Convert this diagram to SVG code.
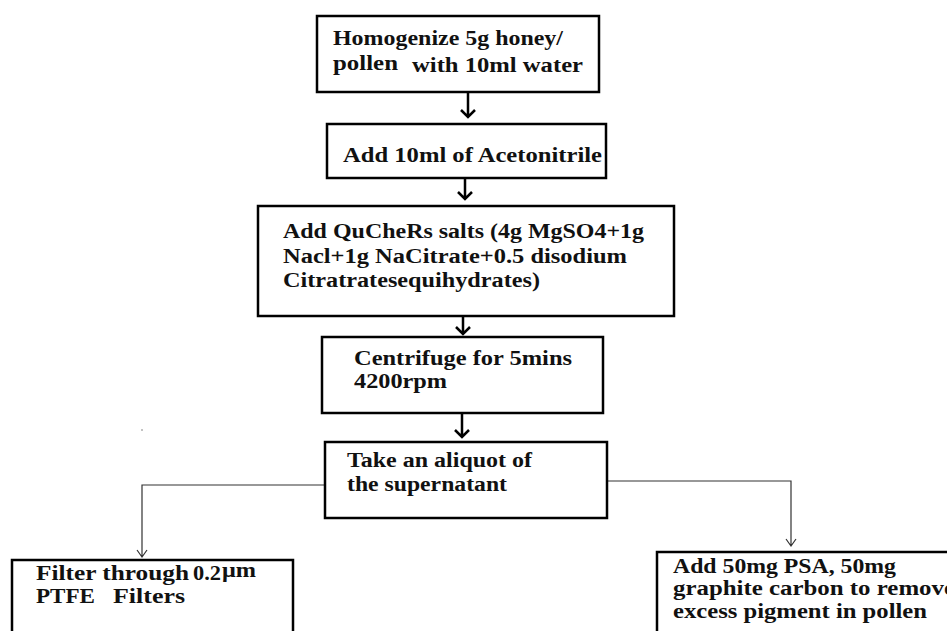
<svg xmlns="http://www.w3.org/2000/svg" width="947" height="631" viewBox="0 0 947 631">
<style>
.box{fill:#fff;stroke:#000;stroke-width:2.5}
.t{font-family:"Liberation Serif","Times New Roman",serif;font-weight:bold;font-size:20px;fill:#111}
.thick{stroke:#000;stroke-width:2.5;fill:none}
.thin{stroke:#333;stroke-width:1.2;fill:none}
</style>
<rect width="947" height="631" fill="#fff"/>
<g id="connectors">
<path class="thick" d="M468 92 V117 M461 110 L468 117 L475 110"/>
<path class="thick" d="M465 178 V199 M458 192 L465 199 L472 192"/>
<path class="thick" d="M463 316 V334 M456 327 L463 334 L470 327"/>
<path class="thick" d="M462 413 V437 M455 430 L462 437 L469 430"/>
<path class="thin" d="M325 485 H142 V557 M137 550 L142 557 L147 550"/>
<path class="thin" d="M607 481 H791 V546 M786 539 L791 546 L796 539"/>
</g>
<g id="n1">
<rect class="box" x="317" y="16" width="282" height="76"/>
<text class="t" x="333" y="45" textLength="230" lengthAdjust="spacingAndGlyphs">Homogenize 5g honey/</text>
<text class="t" x="333" y="70" textLength="65" lengthAdjust="spacingAndGlyphs">pollen</text>
<text class="t" x="412" y="72" textLength="171" lengthAdjust="spacingAndGlyphs">with 10ml water</text>
</g>
<g id="n2">
<rect class="box" x="327" y="124" width="279" height="54"/>
<text class="t" x="343" y="162" textLength="259" lengthAdjust="spacingAndGlyphs">Add 10ml of Acetonitrile</text>
</g>
<g id="n3">
<rect class="box" x="258" y="206" width="416" height="110"/>
<text class="t" x="283" y="238" textLength="361" lengthAdjust="spacingAndGlyphs">Add QuCheRs salts (4g MgSO4+1g</text>
<text class="t" x="283" y="263" textLength="344" lengthAdjust="spacingAndGlyphs">Nacl+1g NaCitrate+0.5 disodium</text>
<text class="t" x="283" y="287" textLength="257" lengthAdjust="spacingAndGlyphs">Citratratesequihydrates)</text>
</g>
<g id="n4">
<rect class="box" x="322" y="337" width="281" height="76"/>
<text class="t" x="354" y="365" textLength="218" lengthAdjust="spacingAndGlyphs">Centrifuge for 5mins</text>
<text class="t" x="354" y="388" textLength="93" lengthAdjust="spacingAndGlyphs">4200rpm</text>
</g>
<g id="n5">
<rect class="box" x="325" y="442" width="282" height="76"/>
<text class="t" x="347" y="467" textLength="185" lengthAdjust="spacingAndGlyphs">Take an aliquot of</text>
<text class="t" x="347" y="491" textLength="160" lengthAdjust="spacingAndGlyphs">the supernatant</text>
</g>
<g id="n6">
<rect class="box" x="12" y="560" width="281" height="90"/>
<text class="t" x="36" y="580" textLength="153" lengthAdjust="spacingAndGlyphs">Filter through</text>
<text class="t" x="193" y="580" font-size="18" textLength="28" lengthAdjust="spacingAndGlyphs">0.2</text>
<text class="t" x="222" y="577" font-size="16" textLength="34" lengthAdjust="spacingAndGlyphs">μm</text>
<text class="t" x="36" y="603" textLength="59" lengthAdjust="spacingAndGlyphs">PTFE</text>
<text class="t" x="113" y="603" textLength="72" lengthAdjust="spacingAndGlyphs">Filters</text>
</g>
<g id="n7">
<rect class="box" x="657" y="552" width="300" height="100"/>
<text class="t" x="673" y="573" textLength="223" lengthAdjust="spacingAndGlyphs">Add 50mg PSA, 50mg</text>
<text class="t" x="673" y="595" textLength="282" lengthAdjust="spacingAndGlyphs">graphite carbon to remove</text>
<text class="t" x="673" y="618" textLength="254" lengthAdjust="spacingAndGlyphs">excess pigment in pollen</text>
</g>
<circle cx="142" cy="430" r="0.8" fill="#777"/>
</svg>
